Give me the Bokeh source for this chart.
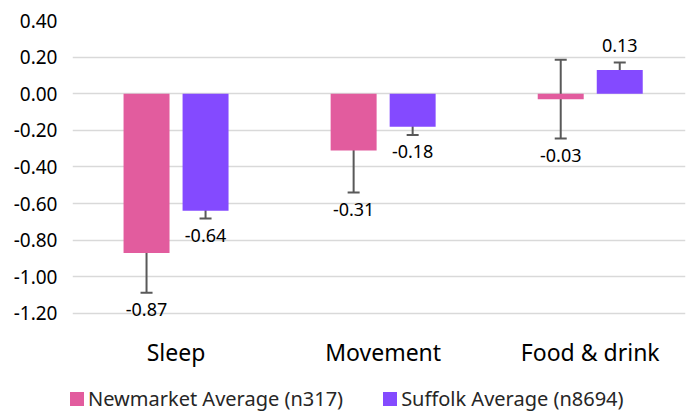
from bokeh.plotting import figure
from bokeh.layouts import column
from bokeh.models import ColumnDataSource, Whisker, FixedTicker, CustomJSTickFormatter, Div
from bokeh.core.properties import value
from bokeh.embed import file_html
from bokeh.resources import INLINE

categories = ["Sleep", "Movement", "Food & drink"]
series_names = ["Newmarket Average (n317)", "Suffolk Average (n8694)"]
newmarket = [-0.87, -0.31, -0.03]
suffolk = [-0.64, -0.18, 0.13]
newmarket_err = [0.217, 0.23, 0.215]
suffolk_err = [0.042, 0.045, 0.04]
y_ticks = [0.4, 0.2, 0.0, -0.2, -0.4, -0.6, -0.8, -1.0, -1.2]

PINK = "#E25C9E"
PURPLE = "#844AFF"
FONT = "Noto Sans"

p = figure(width=687, height=380, output_backend="svg", toolbar_location=None,
           x_range=(-0.5, 2.46), y_range=(-1.25, 0.4),
           min_border_left=72, min_border_right=2, min_border_top=20, min_border_bottom=58)
p.outline_line_color = None
p.background_fill_color = "white"

off = 0.1425
bw = 0.222

def make_src(vals, errs, shift):
    xs = [i + shift for i in range(len(vals))]
    up = [v + e for v, e in zip(vals, errs)]
    lo = [v - e for v, e in zip(vals, errs)]
    lab_y = [u if v > 0 else l for v, u, l in zip(vals, up, lo)]
    lab_off = [-17 if v > 0 else 17 for v in vals]
    txt = ["%.2f" % v for v in vals]
    return ColumnDataSource(dict(x=xs, top=vals, upper=up, lower=lo, ly=lab_y, loff=lab_off, txt=txt))

s1 = make_src(newmarket, newmarket_err, -off)
s2 = make_src(suffolk, suffolk_err, off)

p.vbar(x="x", top="top", bottom=0, width=bw, source=s1, fill_color=PINK, line_color=None)
p.vbar(x="x", top="top", bottom=0, width=bw, source=s2, fill_color=PURPLE, line_color=None)

for s in (s1, s2):
    w = Whisker(source=s, base="x", upper="upper", lower="lower", dimension="height",
                line_color="#595959", line_width=2)
    for h in (w.upper_head, w.lower_head):
        h.size = 12
        h.line_color = "#595959"
        h.line_width = 2
    p.add_layout(w)
    p.text(x="x", y="ly", text="txt", source=s, y_offset="loff", text_align="center",
           text_baseline="middle", text_font=value(FONT), text_font_size="18px",
           text_color="#000000")

p.xgrid.grid_line_color = None
p.ygrid.grid_line_color = "#D9D9D9"
p.ygrid.grid_line_width = 1.5
p.yaxis.ticker = FixedTicker(ticks=y_ticks)
p.ygrid.ticker = FixedTicker(ticks=y_ticks)
p.yaxis.formatter = CustomJSTickFormatter(code="return tick.toFixed(2);")
p.yaxis.axis_line_color = None
p.yaxis.major_tick_line_color = None
p.yaxis.minor_tick_line_color = None
p.yaxis.major_tick_out = 0
p.yaxis.major_tick_in = 0
p.yaxis.major_label_standoff = 15
p.yaxis.major_label_text_font = FONT
p.yaxis.major_label_text_font_size = "19px"
p.yaxis.major_label_text_color = "#000000"

p.xaxis.ticker = FixedTicker(ticks=list(range(len(categories))))
p.xaxis.major_label_overrides = {i: c for i, c in enumerate(categories)}
p.xaxis.axis_line_color = None
p.xaxis.major_tick_line_color = None
p.xaxis.minor_tick_line_color = None
p.xaxis.major_tick_out = 0
p.xaxis.major_tick_in = 0
p.xaxis.major_label_standoff = 13
p.xaxis.major_label_text_font = FONT
p.xaxis.major_label_text_font_size = "23px"
p.xaxis.major_label_text_color = "#000000"

# legend strip (HTML)
items = []
for name, col in zip(series_names, [PINK, PURPLE]):
    items.append(
        '<span style="display:inline-flex;align-items:center;margin-right:40px;">'
        '<span style="display:inline-block;width:14px;height:14px;background:%s;margin-right:4px;"></span>'
        '<span>%s</span></span>' % (col, name))
html = ('<div style="display:flex;align-items:center;height:20px;margin-top:9px;padding-left:70px;'
        'font-family:\'Noto Sans\';font-size:20px;color:#262626;white-space:nowrap;line-height:20px;">'
        + "".join(items) + '</div>')
legend_div = Div(text=html, width=687, height=33, margin=(0, 0, 0, 0))

open("out.html", "w").write(file_html(column(p, legend_div, spacing=0), INLINE))
